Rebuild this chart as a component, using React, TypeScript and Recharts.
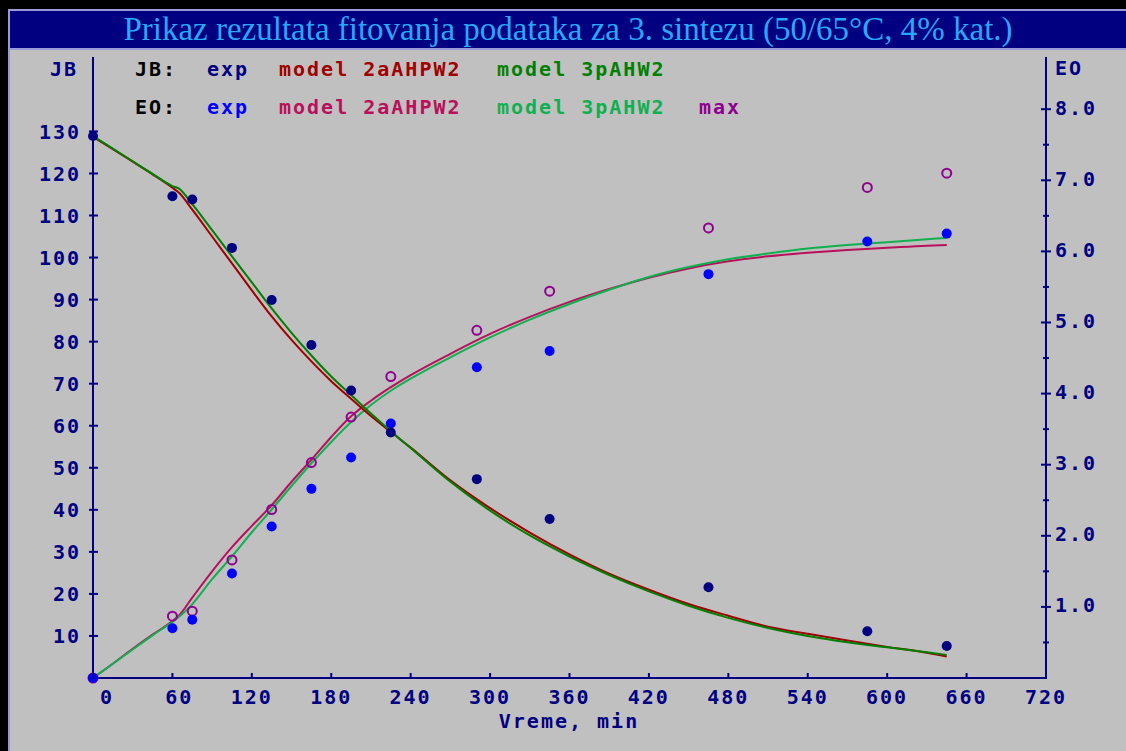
import { ComposedChart, Line, Scatter, XAxis, YAxis } from "recharts";

// experimental samples (min)
const timeExp = [0, 60, 75, 105, 135, 165, 195, 225, 290, 345, 465, 585, 645];
const jbExp = [128.9, 114.6, 113.8, 102.3, 89.9, 79.2, 68.4, 58.4, 47.3, 37.8, 21.6, 11.1, 7.6];
const eoExp = [0, 0.7, 0.82, 1.47, 2.13, 2.66, 3.1, 3.58, 4.37, 4.6, 5.68, 6.14, 6.25];
const eoMax = [0, 0.87, 0.94, 1.66, 2.37, 3.03, 3.67, 4.24, 4.89, 5.44, 6.33, 6.9, 7.1];

// model curves
const timeModel = [0, 15, 30, 45, 60, 65, 75, 90, 105, 120, 135, 150, 165, 180, 195, 210, 225, 240, 270, 300, 330, 360, 390, 420, 450, 480, 510, 540, 570, 600, 630, 645];
const jbModel2a = [128.7, 125.8, 122.8, 119.8, 116.6, 115.4, 111.4, 105.0, 98.6, 92.2, 86.0, 80.4, 75.3, 70.6, 66.4, 62.3, 58.5, 54.8, 47.0, 40.4, 34.6, 29.4, 24.8, 21.0, 17.6, 14.8, 12.2, 10.5, 8.9, 7.4, 6.0, 5.1];
const jbModel3p = [128.9, 125.9, 122.9, 119.9, 117.0, 116.4, 112.7, 106.5, 100.3, 94.1, 87.9, 82.1, 76.7, 71.7, 67.3, 62.9, 58.7, 54.7, 46.7, 39.8, 33.9, 28.9, 24.5, 20.6, 17.2, 14.3, 11.9, 10.0, 8.5, 7.3, 6.1, 5.5];
const eoModel2a = [0, 0.2, 0.41, 0.61, 0.8, 0.88, 1.13, 1.5, 1.84, 2.14, 2.43, 2.76, 3.07, 3.39, 3.68, 3.9, 4.09, 4.26, 4.56, 4.84, 5.08, 5.29, 5.47, 5.63, 5.76, 5.86, 5.93, 5.98, 6.02, 6.05, 6.08, 6.09];
const eoModel3p = [0, 0.2, 0.4, 0.6, 0.79, 0.86, 1.04, 1.39, 1.71, 2.05, 2.37, 2.7, 3.02, 3.32, 3.6, 3.84, 4.04, 4.21, 4.51, 4.79, 5.04, 5.26, 5.46, 5.64, 5.78, 5.89, 5.97, 6.04, 6.09, 6.13, 6.17, 6.19];

const xTicks = [0, 60, 120, 180, 240, 300, 360, 420, 480, 540, 600, 660, 720];
const jbTicks = [10, 20, 30, 40, 50, 60, 70, 80, 90, 100, 110, 120, 130];
const eoTicks = [0.5, 1, 1.5, 2, 2.5, 3, 3.5, 4, 4.5, 5, 5.5, 6, 6.5, 7, 7.5, 8];

const NAVY = "#000080";
const RED = "#a00000";
const GREEN = "#008000";
const MAGENTA = "#b8105a";
const LIGHTGREEN = "#10b050";
const BLUE = "#0000ff";
const PURPLE = "#900090";

const legendJB = [
  { label: "JB:", color: "#000000", x: 135 },
  { label: "exp", color: NAVY, x: 207 },
  { label: "model 2aAHPW2", color: RED, x: 279 },
  { label: "model 3pAHW2", color: GREEN, x: 497 },
];
const legendEO = [
  { label: "EO:", color: "#000000", x: 135 },
  { label: "exp", color: BLUE, x: 207 },
  { label: "model 2aAHPW2", color: MAGENTA, x: 279 },
  { label: "model 3pAHW2", color: LIGHTGREEN, x: 497 },
  { label: "max", color: PURPLE, x: 699 },
];

const expRows = timeExp.map((t, i) => ({ t, jb: jbExp[i], eo: eoExp[i], max: eoMax[i] }));
const modelRows = timeModel.map((t, i) => ({
  t,
  jb2a: jbModel2a[i],
  jb3p: jbModel3p[i],
  eo2a: eoModel2a[i],
  eo3p: eoModel3p[i],
}));

const mono = "'DejaVu Sans Mono', monospace";
const tickText = { fontFamily: mono, fontWeight: 700, fontSize: 20, letterSpacing: 2, fill: NAVY };

const XTick = ({ x, y, payload }: any) => (
  <g>
    <line x1={x} x2={x} y1={y - 5} y2={y + 1} stroke={NAVY} strokeWidth={2} />
    <text x={x + 21} y={y + 26} textAnchor="end" style={tickText}>
      {payload.value}
    </text>
  </g>
);

const LeftTick = ({ x, y, payload }: any) => (
  <g>
    <line x1={x - 4} x2={x + 5} y1={y} y2={y} stroke={NAVY} strokeWidth={2} />
    <text x={x - 12} y={y} dy="0.36em" textAnchor="end" style={tickText}>
      {payload.value}
    </text>
  </g>
);

const RightTick = ({ x, y, payload }: any) => {
  const major = Number.isInteger(payload.value);
  return (
    <g>
      <line x1={x - (major ? 5 : 3)} x2={x + (major ? 5 : 3)} y1={y} y2={y} stroke={NAVY} strokeWidth={2} />
      {major && (
        <text x={x + 9} y={y} dy="0.28em" textAnchor="start" style={tickText}>
          {payload.value.toFixed(1)}
        </text>
      )}
    </g>
  );
};

const dot = (color: string) => (p: any) => <circle cx={p.cx} cy={p.cy} r={5} fill={color} />;
const ring = (color: string) => (p: any) => (
  <circle cx={p.cx} cy={p.cy} r={4.5} fill="none" stroke={color} strokeWidth={2} />
);

const textStyle = {
  position: "absolute" as const,
  fontFamily: mono,
  fontWeight: 700,
  fontSize: 20,
  letterSpacing: 2,
  whiteSpace: "pre" as const,
  lineHeight: "24px",
};

export default function App() {
  return (
    <div style={{ position: "absolute", left: 0, top: 0, width: 1126, height: 751, background: "#000", overflow: "hidden" }}>
      <div
        style={{
          position: "absolute",
          left: 8,
          top: 9,
          right: 0,
          bottom: 0,
          background: "#c0c0c0",
          borderLeft: "2px solid #9a9ad8",
          borderTop: "2px solid #9a9ad8",
        }}
      />
      <div
        style={{
          position: "absolute",
          left: 10,
          top: 11,
          right: 0,
          height: 37,
          background: NAVY,
          borderBottom: "2px solid #9a9ad8",
          color: "#28a8f8",
          fontFamily: "'Liberation Serif', serif",
          fontSize: 33,
          lineHeight: "37px",
          textAlign: "center",
          whiteSpace: "nowrap",
        }}
      >
        Prikaz rezultata fitovanja podataka za 3. sintezu (50/65°C, 4% kat.)
      </div>

      {legendJB.map((l) => (
        <div key={"jb" + l.label} style={{ ...textStyle, left: l.x, top: 57, color: l.color }}>
          {l.label}
        </div>
      ))}
      {legendEO.map((l) => (
        <div key={"eo" + l.label} style={{ ...textStyle, left: l.x, top: 95, color: l.color }}>
          {l.label}
        </div>
      ))}
      <div style={{ ...textStyle, left: 50, top: 57, color: NAVY }}>JB</div>
      <div style={{ ...textStyle, left: 1055, top: 56, color: NAVY }}>EO</div>
      <div style={{ ...textStyle, left: 0, width: 1138, top: 709, color: NAVY, textAlign: "center" }}>
        Vreme, min
      </div>

      <div style={{ position: "absolute", left: 0, top: 0 }}>
        <ComposedChart width={1126} height={751} margin={{ top: 57, right: 79, bottom: 72, left: 92 }}>
          <XAxis
            type="number"
            dataKey="t"
            domain={[0, 720]}
            ticks={xTicks}
            height={1}
            tickSize={0}
            tickMargin={0}
            tickLine={false}
            axisLine={{ stroke: NAVY, strokeWidth: 2 }}
            tick={<XTick />}
            interval={0}
          />
          <YAxis
            yAxisId="jb"
            orientation="left"
            type="number"
            domain={[0, 147.7]}
            ticks={jbTicks}
            width={1}
            tickSize={0}
            tickMargin={0}
            tickLine={false}
            axisLine={{ stroke: NAVY, strokeWidth: 2 }}
            tick={<LeftTick />}
            interval={0}
          />
          <YAxis
            yAxisId="eo"
            orientation="right"
            type="number"
            domain={[0, 8.734]}
            ticks={eoTicks}
            width={1}
            tickSize={0}
            tickMargin={0}
            tickLine={false}
            axisLine={{ stroke: NAVY, strokeWidth: 2 }}
            tick={<RightTick />}
            interval={0}
          />

          <Line yAxisId="eo" data={modelRows} dataKey="eo2a" type="monotone" stroke={MAGENTA} strokeWidth={2} dot={false} isAnimationActive={false} />
          <Line yAxisId="eo" data={modelRows} dataKey="eo3p" type="monotone" stroke={LIGHTGREEN} strokeWidth={2} dot={false} isAnimationActive={false} />
          <Line yAxisId="jb" data={modelRows} dataKey="jb2a" type="monotone" stroke={RED} strokeWidth={2} dot={false} isAnimationActive={false} />
          <Line yAxisId="jb" data={modelRows} dataKey="jb3p" type="monotone" stroke={GREEN} strokeWidth={2} dot={false} isAnimationActive={false} />

          <Scatter yAxisId="eo" data={expRows} dataKey="max" shape={ring(PURPLE)} isAnimationActive={false} />
          <Scatter yAxisId="eo" data={expRows} dataKey="eo" shape={dot(BLUE)} isAnimationActive={false} />
          <Scatter yAxisId="jb" data={expRows} dataKey="jb" shape={dot(NAVY)} isAnimationActive={false} />
        </ComposedChart>
      </div>
    </div>
  );
}
